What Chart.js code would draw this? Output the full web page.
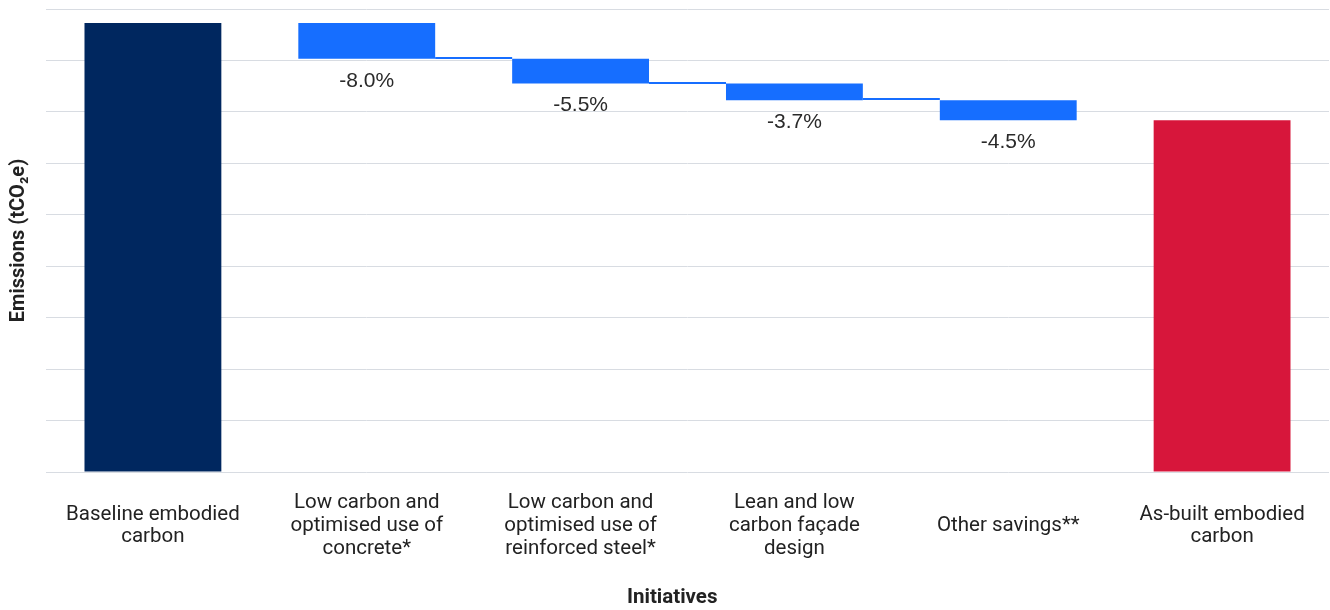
<!DOCTYPE html>
<html>
<head>
<meta charset="utf-8">
<script src="https://cdn.jsdelivr.net/npm/chart.js@4/dist/chart.umd.min.js"></script>
<style>
  html, body { margin: 0; padding: 0; background: #ffffff; }
  #chart { display: block; }
</style>
</head>
<body>
<canvas id="chart" width="1330" height="610"></canvas>
<script>
// Initiatives along the x axis (multi-line labels)
const categories = [
  ["Baseline embodied", "carbon"],
  ["Low carbon and", "optimised use of", "concrete*"],
  ["Low carbon and", "optimised use of", "reinforced steel*"],
  ["Lean and low", "carbon façade", "design"],
  ["Other savings**"],
  ["As-built embodied", "carbon"]
];

// Baseline embodied carbon (thousand tCO2e) and the saving of each initiative (% of baseline)
const baselineEmissions = 87.3;
const savingsPct = [-8.0, -5.5, -3.7, -4.5];

// Value axis range (tick labels are not shown, only the grid)
const axisMax = 90;
const axisStep = 10;

const colors = { baseline: "#00275F", saving: "#166EFF", asBuilt: "#D7163B", grid: "#D8DCE2", text: "#222222" };

// Build floating waterfall segments
const bars = [[0, baselineEmissions]];
const barColors = [colors.baseline];
let level = baselineEmissions;
savingsPct.forEach(p => {
  const next = level + baselineEmissions * p / 100;
  bars.push([next, level]);
  barColors.push(colors.saving);
  level = next;
});
bars.push([0, level]);
barColors.push(colors.asBuilt);

// Thin step lines joining consecutive savings bars
const connectorPlugin = {
  id: "connectors",
  afterDatasetsDraw(chart) {
    const meta = chart.getDatasetMeta(0);
    const y = chart.scales.y;
    const ctx = chart.ctx;
    ctx.save();
    ctx.strokeStyle = colors.saving;
    ctx.lineWidth = 2;
    for (let i = 1; i < savingsPct.length; i++) {
      const a = meta.data[i], b = meta.data[i + 1];
      const py = Math.round(y.getPixelForValue(bars[i][0])) - 1;
      ctx.beginPath();
      ctx.moveTo(a.x + a.width / 2, py);
      ctx.lineTo(b.x - b.width / 2, py);
      ctx.stroke();
    }
    ctx.restore();
  }
};

// Percentage labels under each savings bar
const pctLabelPlugin = {
  id: "pctLabels",
  afterDatasetsDraw(chart) {
    const meta = chart.getDatasetMeta(0);
    const y = chart.scales.y;
    const ctx = chart.ctx;
    ctx.save();
    ctx.font = "21px 'Liberation Sans', Arial, sans-serif";
    ctx.fillStyle = "#2a2a2a";
    ctx.textAlign = "center";
    ctx.textBaseline = "middle";
    savingsPct.forEach((p, k) => {
      const el = meta.data[k + 1];
      const py = y.getPixelForValue(bars[k + 1][0]) + 22;
      ctx.fillText(p.toFixed(1) + "%", el.x, py);
    });
    ctx.restore();
  }
};

new Chart(document.getElementById("chart"), {
  type: "bar",
  data: {
    labels: categories,
    datasets: [{
      data: bars,
      backgroundColor: barColors,
      borderWidth: 0,
      categoryPercentage: 1.0,
      barPercentage: 0.64
    }]
  },
  options: {
    responsive: false,
    animation: false,
    devicePixelRatio: 1,
    layout: { padding: { top: 9, right: 1, left: 0, bottom: 0 } },
    plugins: { legend: { display: false }, tooltip: { enabled: false } },
    scales: {
      x: {
        grid: { display: false },
        border: { display: false },
        ticks: {
          color: colors.text,
          font: { family: "Roboto", size: 20.5, lineHeight: 1.11 },
          padding: 23,
          maxRotation: 0,
          autoSkip: false,
          crossAlign: "center"
        },
        title: {
          display: true,
          text: "Initiatives\u00A0\u00A0\u00A0\u00A0\u00A0\u00A0",
          color: colors.text,
          font: { family: "Roboto", size: 20.5, weight: "bold", lineHeight: 1.2 },
          padding: { top: 0, bottom: 0 }
        },
        afterFit(scale) { scale.height = 138; }
      },
      y: {
        min: 0,
        max: axisMax,
        ticks: { stepSize: axisStep, display: false },
        grid: { color: colors.grid, lineWidth: 1, drawTicks: false },
        border: { display: false },
        title: {
          display: true,
          text: "Emissions (tCO₂e)",
          color: colors.text,
          font: { family: "Roboto", size: 20, weight: "bold", lineHeight: 1.2 },
          padding: { top: 7, bottom: 0 }
        },
        afterFit(scale) { scale.width = 46; }
      }
    }
  },
  plugins: [connectorPlugin, pctLabelPlugin]
});
</script>
</body>
</html>
